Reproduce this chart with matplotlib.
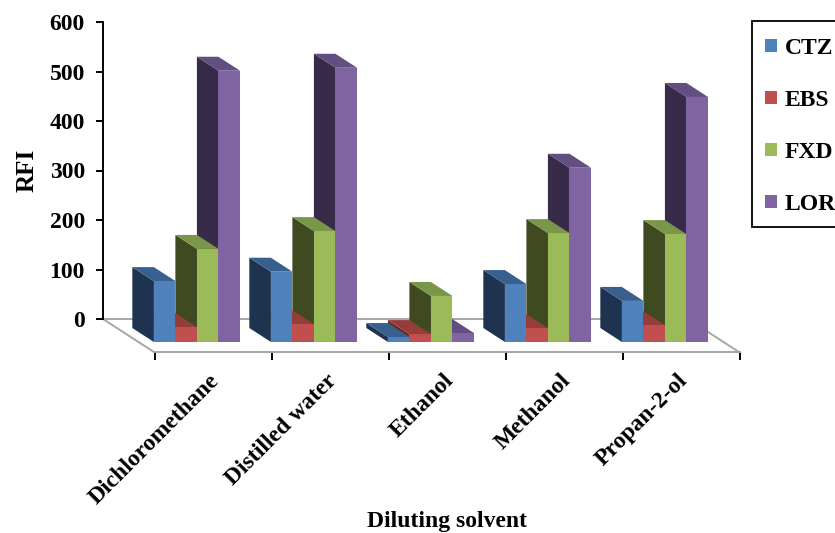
import matplotlib
matplotlib.use('Agg')
import matplotlib.pyplot as plt
from matplotlib.patches import Patch, Polygon, Rectangle

plt.rcParams['font.family'] = ['Liberation Serif', 'DejaVu Serif']
plt.rcParams['font.weight'] = 'bold'

solventes = ['Dichloromethane', 'Distilled water', 'Ethanol', 'Methanol', 'Propan-2-ol']
ctz = [123, 142, 10, 117, 83]
ebs = [30, 36, 16, 28, 34]
fxd = [188, 224, 93, 220, 218]
lor = [548, 554, 18, 352, 495]
series = ['CTZ', 'EBS', 'FXD', 'LOR']
valores = [ctz, ebs, fxd, lor]

# front, side, top colour of each series
c_frente = ['#4F81BD', '#C0504D', '#9BBB59', '#8064A2']
c_lado = ['#1D3350', '#6E2B29', '#3F4A20', '#372B49']
c_arriba = ['#38608F', '#953D3A', '#7A9648', '#624E80']

W, H = 835, 533
fig = plt.figure(figsize=(W / 100, H / 100), dpi=100)

# back wall: carries the RFI scale
ax = fig.add_axes([103 / W, (H - 319) / H, 585 / W, 297 / H])
ax.set_xlim(0, 5)
ax.set_ylim(0, 600)
ax.patch.set_alpha(0)
for s in ['top', 'right', 'bottom']:
    ax.spines[s].set_visible(False)
ax.spines['left'].set_linewidth(1.4)
ax.set_xticks([])
ax.set_yticks([0, 100, 200, 300, 400, 500, 600])
ax.tick_params(axis='y', length=5, width=1.4, labelsize=17, pad=8)
ax.set_ylabel('RFI', fontsize=18, fontweight='bold', labelpad=8)

# depth of the floor in data units
prof_x = 52 / 117
prof_y = -33.7 / (297 / 600)
f_frente = 0.682
f_atras = 0.267
ancho = 0.184

# floor outline
gris = '#A6A6A6'
ax.plot([0, 5], [0, 0], color=gris, lw=1.4, clip_on=False, zorder=1)
ax.plot([0, prof_x], [0, prof_y], color=gris, lw=1.4, clip_on=False, zorder=1)
ax.plot([5, 5 + prof_x], [0, prof_y], color=gris, lw=1.4, clip_on=False, zorder=1)

sx = (f_frente - f_atras) * prof_x
sy = (f_frente - f_atras) * prof_y
base = f_frente * prof_y

# right-hand bars first so the left ones cover them
z = 2
for k in range(len(solventes) - 1, -1, -1):
    for j in range(len(series) - 1, -1, -1):
        x0 = k + 0.5 + (j - 2) * ancho + f_frente * prof_x
        v = valores[j][k]
        ax.add_patch(Polygon([(x0, base), (x0 - sx, base - sy), (x0 - sx, base - sy + v), (x0, base + v)],
                             facecolor=c_lado[j], edgecolor='none', clip_on=False, zorder=z))
        ax.add_patch(Polygon([(x0, base + v), (x0 - sx, base - sy + v), (x0 - sx + ancho, base - sy + v), (x0 + ancho, base + v)],
                             facecolor=c_arriba[j], edgecolor='none', clip_on=False, zorder=z))
        ax.bar(x0, v, ancho, bottom=base, align='edge', color=c_frente[j], clip_on=False, zorder=z)
        z += 1

# front edge of the floor: carries the solvent labels
ax2 = fig.add_axes([155 / W, (H - 352) / H, 585 / W, 20 / H])
ax2.set_xlim(0, 5)
ax2.set_ylim(0, 1)
ax2.patch.set_alpha(0)
for s in ['top', 'right', 'left']:
    ax2.spines[s].set_visible(False)
ax2.spines['bottom'].set_color(gris)
ax2.spines['bottom'].set_linewidth(1.4)
ax2.set_yticks([])
ax2.set_xticks([0, 1, 2, 3, 4, 5])
ax2.set_xticklabels([])
ax2.set_xticks([0.46, 1.46, 2.46, 3.46, 4.46], minor=True)
ax2.set_xticklabels(solventes, minor=True, rotation=45, ha='right', rotation_mode='anchor', fontsize=17)
ax2.tick_params(axis='x', which='major', length=6, width=1.4, color='black')
ax2.tick_params(axis='x', which='minor', length=0, pad=13)

fig.text(447 / W, (H - 522) / H, 'Diluting solvent', ha='center', va='center', fontsize=17, fontweight='bold')

# legend box runs off the right side of the figure
fig.add_artist(Rectangle((752 / W, (H - 227) / H), 120 / W, 206 / H, transform=fig.transFigure,
                         facecolor='white', edgecolor='black', linewidth=1.3, clip_on=True))
handles = [Patch(facecolor=c, edgecolor='none') for c in c_frente]
ley = fig.legend(handles, series, loc='upper left', bbox_to_anchor=(765 / W, (H - 38) / H),
                 borderaxespad=0, fontsize=17, frameon=False,
                 handlelength=0.5, handleheight=0.5, handletextpad=0.35, labelspacing=1.31, borderpad=0)
ley.set_zorder(5)

fig.savefig('out.png', dpi=100)
